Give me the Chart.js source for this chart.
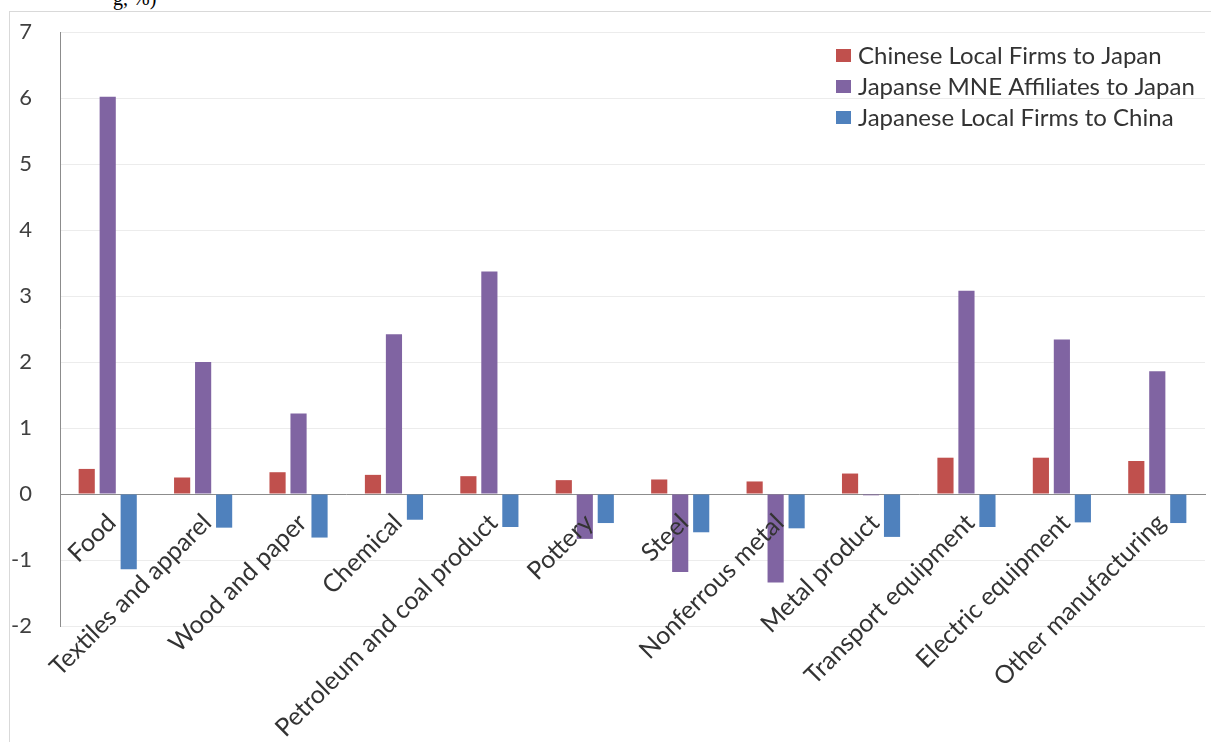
<!DOCTYPE html>
<html>
<head>
<meta charset="utf-8">
<script src="https://cdn.jsdelivr.net/npm/chart.js@4/dist/chart.umd.min.js"></script>
<style>
  html, body { margin: 0; padding: 0; background: #fff; }
  #wrap { position: relative; width: 1211px; height: 742px; overflow: hidden; }
  #frame { position: absolute; left: 9px; top: 11px; width: 1300px; height: 800px;
           border-left: 1px solid #d9d9d9; border-top: 1px solid #d9d9d9; }
  #cut { position: absolute; left: 113px; top: -13px; font: 20px "Liberation Serif", serif; color: #000; }
  canvas { position: absolute; left: 0; top: 0; }
</style>
</head>
<body>
<div id="wrap">
  <div id="frame"></div>
  <div id="cut">g, %)</div>
  <canvas id="chart" width="1211" height="742"></canvas>
</div>
<script>
const categories = ["Food", "Textiles and apparel", "Wood and paper", "Chemical",
  "Petroleum and coal product", "Pottery", "Steel", "Nonferrous metal",
  "Metal product", "Transport equipment", "Electric equipment", "Other manufacturing"]

const chineseLocal = [0.38, 0.25, 0.33, 0.29, 0.27, 0.21, 0.22, 0.19, 0.31, 0.55, 0.55, 0.50]
const japaneseMNE  = [6.02, 2.00, 1.22, 2.42, 3.37, -0.68, -1.18, -1.34, -0.02, 3.08, 2.34, 1.86]
const japaneseLocal = [-1.14, -0.51, -0.66, -0.39, -0.50, -0.44, -0.58, -0.52, -0.65, -0.50, -0.43, -0.44]

const seriesNames = ["Chinese Local Firms to Japan", "Japanse MNE Affiliates to Japan", "Japanese Local Firms to China"]
const seriesColors = ["#C0504D", "#8064A2", "#4F81BD"]

// legend drawn inside the plot, top right, like the original
const boxLegend = {
    id: 'boxLegend',
    afterDraw(chart) {
        const ctx = chart.ctx
        ctx.save()
        ctx.font = '24px Lato'
        ctx.textBaseline = 'middle'
        chart.data.datasets.forEach((ds, i) => {
            const y = 56 + i * 31
            ctx.fillStyle = ds.backgroundColor
            ctx.fillRect(836, y - 7, 15, 13)
            ctx.fillStyle = '#333'
            ctx.fillText(ds.label, 858, y)
        })
        ctx.restore()
    }
}

const ctx = document.querySelector('#chart')

const myChart = new Chart(ctx, {
    type: 'bar',
    data: {
        labels: categories,
        datasets: [
            { label: seriesNames[0], data: chineseLocal, backgroundColor: seriesColors[0] },
            { label: seriesNames[1], data: japaneseMNE, backgroundColor: seriesColors[1] },
            { label: seriesNames[2], data: japaneseLocal, backgroundColor: seriesColors[2] }
        ]
    },
    options: {
        responsive: false,
        animation: false,
        layout: { padding: { top: 32, right: 6, left: 0, bottom: 116 } },
        datasets: { bar: { categoryPercentage: 0.66, barPercentage: 0.77 } },
        plugins: {
            legend: { display: false },
            tooltip: { enabled: false }
        },
        scales: {
            x: {
                position: { y: 0 },
                grid: { display: true, color: 'rgba(0,0,0,0)', drawTicks: false },
                border: { display: true, color: '#8c8c8c', width: 1 },
                ticks: {
                    z: 1,  // category names sit on top of the bars
                    autoSkip: false, minRotation: 45, maxRotation: 45,
                    padding: 14, labelOffset: 4,
                    color: '#333', font: { family: 'Lato', size: 25 }
                }
            },
            y: {
                min: -2, max: 7,
                ticks: { stepSize: 1, padding: 28, color: '#404040', font: { family: 'Lato', size: 22 } },
                grid: { color: '#ececec', drawTicks: false },
                border: { display: true, color: '#8c8c8c', width: 1 },
                afterFit(scale) {
                    scale.width = 60
                    scale.paddingTop = 0
                    scale.paddingBottom = 0
                }
            }
        }
    },
    plugins: [boxLegend]
})
</script>
</body>
</html>
